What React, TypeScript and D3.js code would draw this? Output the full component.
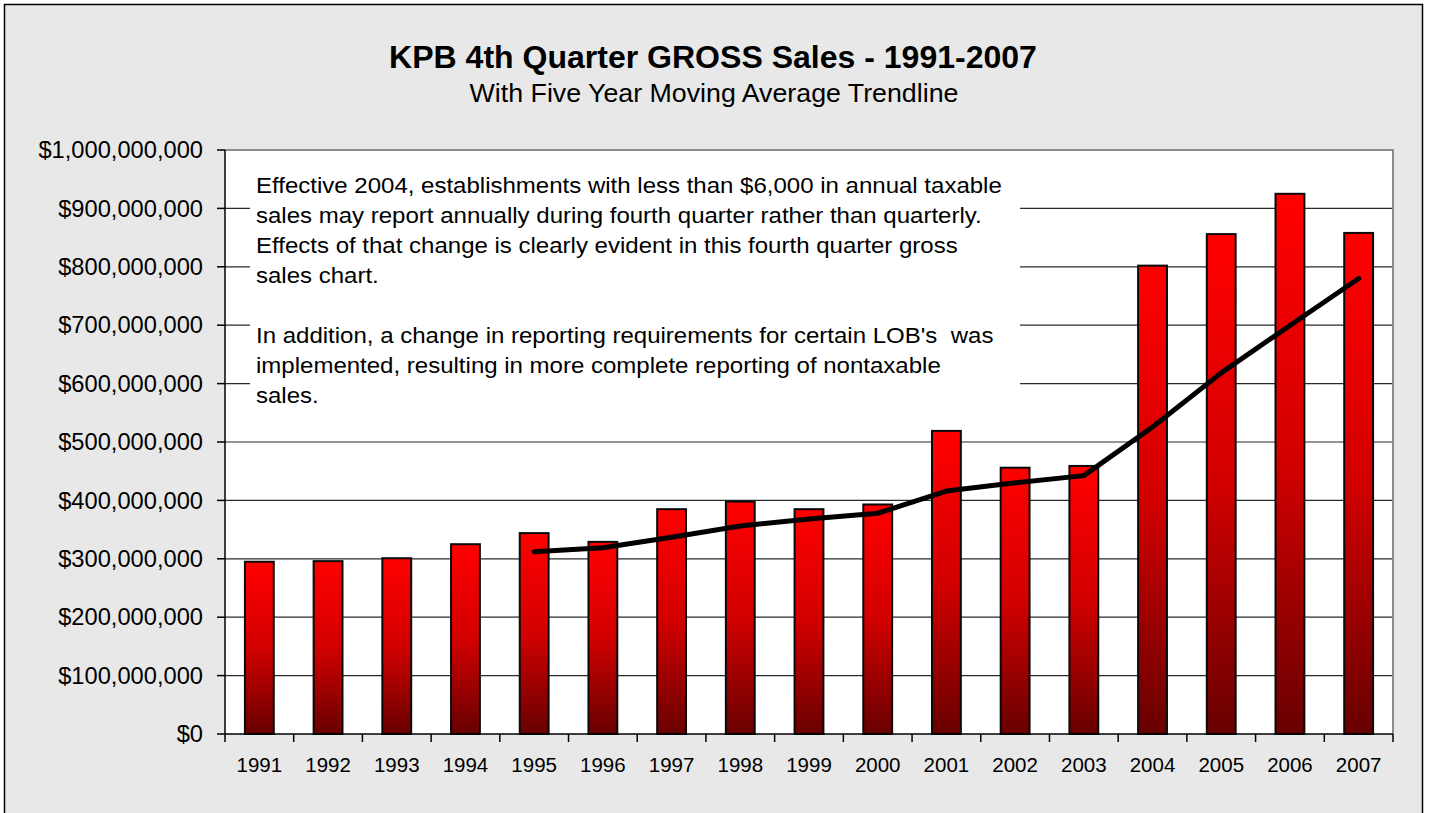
import React from "react";
import * as d3 from "d3";

const years = ["1991","1992","1993","1994","1995","1996","1997","1998","1999","2000","2001","2002","2003","2004","2005","2006","2007"];
const sales = [295e6, 296e6, 301e6, 325e6, 344e6, 329e6, 385e6, 398e6, 385e6, 393e6, 519e6, 456e6, 459e6, 802e6, 856e6, 925e6, 858e6];
const yTicks = [0, 1e8, 2e8, 3e8, 4e8, 5e8, 6e8, 7e8, 8e8, 9e8, 1e9];
const movingAvgPeriod = 5;
const title = "KPB 4th Quarter GROSS Sales - 1991-2007";
const subtitle = "With Five Year Moving Average Trendline";
const noteLines = [
  "Effective 2004, establishments with less than $6,000 in annual taxable",
  "sales may report annually during fourth quarter rather than quarterly.",
  "Effects of that change is clearly evident in this fourth quarter gross",
  "sales chart.",
  "",
  "In addition, a change in reporting requirements for certain LOB's  was",
  "implemented, resulting in more complete reporting of nontaxable",
  "sales.",
];

const W = 1430, H = 813;
const PL = 225, PR = 1393, PT = 150, PB = 734;
const FONT = "'Liberation Sans', Arial, sans-serif";

export default function App() {
  const x = d3.scaleBand<string>().domain(years).range([PL, PR]).padding(0);
  const y = d3.scaleLinear().domain([0, 1e9]).range([PB, PT]);
  const bw = x.bandwidth() * 0.42;
  const fmt = d3.format("$,.0f");

  const ma: [number, number][] = [];
  for (let i = movingAvgPeriod - 1; i < sales.length; i++) {
    const m = d3.mean(sales.slice(i - movingAvgPeriod + 1, i + 1)) as number;
    ma.push([(x(years[i]) as number) + x.bandwidth() / 2, y(m)]);
  }
  const line = d3.line().curve(d3.curveLinear)(ma) as string;

  return (
    <svg width={W} height={H} style={{ position: "absolute", left: 0, top: 0, display: "block" }}>
      <defs>
        <linearGradient id="barGrad" x1="0" y1="0" x2="0" y2="1">
          <stop offset="0" stopColor="#ff0000" />
          <stop offset="0.5" stopColor="#d20000" />
          <stop offset="1" stopColor="#680000" />
        </linearGradient>
      </defs>
      <rect x={0} y={0} width={W} height={H} fill="#ffffff" />
      <rect x={4.5} y={4.5} width={1418} height={840} fill="#e8e8e8" stroke="#000" strokeWidth={1.5} />

      <text transform="translate(713,68) scale(1.05,1)" textAnchor="middle" fontFamily={FONT} fontWeight="bold" fontSize={30.5} fill="#000">{title}</text>
      <text transform="translate(714,101.5) scale(1.05,1)" textAnchor="middle" fontFamily={FONT} fontSize={25.5} fill="#000">{subtitle}</text>

      {/* plot area */}
      <rect x={PL} y={PT} width={PR - PL} height={PB - PT} fill="#ffffff" />
      {yTicks.filter(t => t > 0 && t < 1e9).map(t => (
        <line key={t} x1={PL} x2={PR} y1={y(t)} y2={y(t)} stroke="#2a2a2a" strokeWidth={1.2} />
      ))}

      {/* annotation box */}
      <rect x={250} y={166} width={770} height={248} fill="#ffffff" />
      {noteLines.map((l, i) => (
        <text key={i} transform={`translate(256,${193 + i * 30}) scale(1.054,1)`} fontFamily={FONT} fontSize={22.8} fill="#000" style={{ whiteSpace: "pre" }}>{l}</text>
      ))}

      {/* frame top/right */}
      <path d={`M${PL},${PT}H${PR}V${PB}`} fill="none" stroke="#8c8c8c" strokeWidth={2} />

      {/* bars */}
      {years.map((yr, i) => (
        <rect key={yr}
          x={(x(yr) as number) + (x.bandwidth() - bw) / 2}
          y={y(sales[i])}
          width={bw}
          height={PB - y(sales[i])}
          fill="url(#barGrad)" stroke="#0a0a0a" strokeWidth={2} />
      ))}

      {/* moving average */}
      <path d={line} fill="none" stroke="#000" strokeWidth={5} strokeLinecap="round" strokeLinejoin="round" />

      {/* axes */}
      <line x1={PL} x2={PL} y1={PT} y2={PB} stroke="#000" strokeWidth={1.5} />
      <line x1={PL} x2={PR} y1={PB} y2={PB} stroke="#000" strokeWidth={1.5} />
      {yTicks.map(t => (
        <g key={t}>
          <line x1={PL - 8} x2={PL} y1={y(t)} y2={y(t)} stroke="#000" strokeWidth={1.5} />
          <text transform={`translate(203,${y(t)}) scale(1.03,1)`} dy="0.36em" textAnchor="end" fontFamily={FONT} fontSize={23} fill="#000">{fmt(t)}</text>
        </g>
      ))}
      {[...years.map(yr => x(yr) as number), PR].map((px, i) => (
        <line key={i} x1={px} x2={px} y1={PB} y2={PB + 8} stroke="#000" strokeWidth={1.5} />
      ))}
      {years.map(yr => (
        <text key={yr} x={(x(yr) as number) + x.bandwidth() / 2} y={772} textAnchor="middle" fontFamily={FONT} fontSize={20.5} fill="#000">{yr}</text>
      ))}
    </svg>
  );
}
